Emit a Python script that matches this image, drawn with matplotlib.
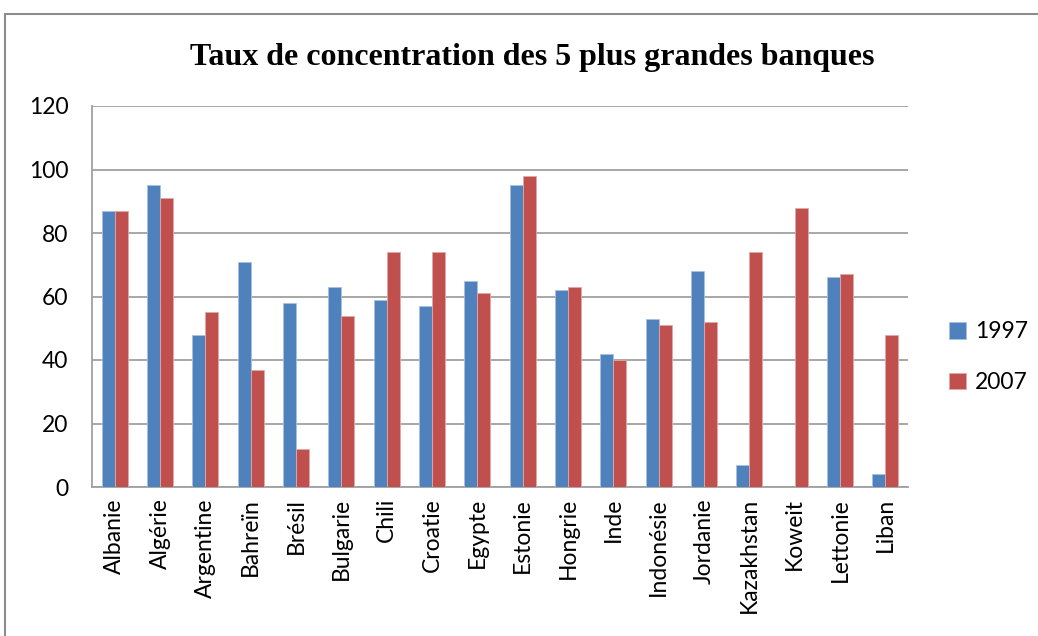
import matplotlib.pyplot as plt
import numpy as np
from matplotlib.patches import Rectangle

countries = ['Albanie', 'Algérie', 'Argentine', 'Bahreïn', 'Brésil', 'Bulgarie', 'Chili',
             'Croatie', 'Egypte', 'Estonie', 'Hongrie', 'Inde', 'Indonésie', 'Jordanie',
             'Kazakhstan', 'Koweit', 'Lettonie', 'Liban']
values_1997 = [87, 95, 48, 71, 58, 63, 59, 57, 65, 95, 62, 42, 53, 68, 7, 0, 66, 4]
values_2007 = [87, 91, 55, 37, 12, 54, 74, 74, 61, 98, 63, 40, 51, 52, 74, 88, 67, 48]

plt.rcParams['font.family'] = ['Lato', 'DejaVu Sans']

fig = plt.figure(figsize=(10.38, 6.36), dpi=100)
fig.patches.append(Rectangle((5 / 1038, -0.01), 1.1, 1 - 14 / 636 + 0.01, transform=fig.transFigure,
                             fill=False, edgecolor='#8c8c8c', linewidth=1.5))
ax = fig.add_axes([92 / 1038, 1 - 487 / 636, (908 - 92) / 1038, (487 - 106) / 636])

ind = np.arange(len(countries))
w = 0.285
ax.bar(ind - w / 2, values_1997, w, color='#4F81BD', edgecolor='#a9c1e0', linewidth=0.6, label='1997', zorder=3)
ax.bar(ind + w / 2, values_2007, w, color='#C0504D', edgecolor='#e0a9a8', linewidth=0.6, label='2007', zorder=3)

ax.set_xlim(-0.5, len(countries) - 0.5)
ax.set_ylim(0, 120)
ax.set_yticks(range(0, 121, 20))
ax.yaxis.grid(True, color='#a0a0a0', linewidth=1.3, zorder=0)
ax.set_xticks(ind)
ax.set_xticklabels(countries, rotation=90, fontsize=16.5)
ax.tick_params(axis='y', labelsize=16.5, length=0, pad=17)
ax.tick_params(axis='x', length=0, pad=8)
for s in ['top', 'right']:
    ax.spines[s].set_visible(False)
for s in ['left', 'bottom']:
    ax.spines[s].set_color('#a0a0a0')
    ax.spines[s].set_linewidth(1.3)

fig.text(532 / 1038, 1 - 57 / 636, 'Taux de concentration des 5 plus grandes banques',
         ha='center', va='center', fontsize=23, fontweight='bold', family='Liberation Serif')

fig.legend(loc='center left', bbox_to_anchor=(949 / 1038, 1 - 357 / 636), frameon=False, fontsize=16.5,
           handlelength=0.75, handleheight=0.75, handletextpad=0.4, labelspacing=1.3,
           borderpad=0, borderaxespad=0)

fig.savefig('out.png', dpi=100)
